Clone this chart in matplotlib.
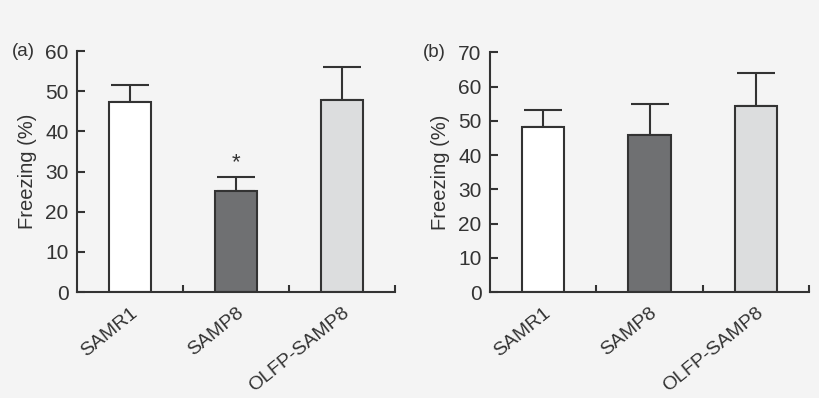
import numpy as np
import matplotlib.pyplot as plt

groups = ['SAMR1', 'SAMP8', 'OLFP-SAMP8']
freeze_a = [47.2, 25.1, 47.8]
err_a = [4.4, 3.5, 8.1]
freeze_b = [48.1, 45.9, 54.2]
err_b = [5.1, 8.9, 9.7]
colors = ['white', '#6f7072', '#dcddde']
ink = '#333333'
bg = '#f4f4f4'

plt.rcParams['font.family'] = ['Liberation Sans', 'DejaVu Sans']

fig = plt.figure(figsize=(8.2, 3.98), dpi=100, facecolor=bg)
ax_a = fig.add_axes([0.0939, 0.2663, 0.388, 0.6055])
ax_b = fig.add_axes([0.5976, 0.2663, 0.389, 0.6022])


def panel(ax, vals, errs, ymax, tag, tagx):
    ind = np.arange(len(groups))
    ax.set_facecolor(bg)
    ax.bar(ind, vals, 0.4, color=colors, edgecolor=ink, linewidth=1.5, zorder=2)
    ax.errorbar(ind, vals, yerr=[np.zeros(len(vals)), errs], fmt='none',
                ecolor=ink, elinewidth=1.5, capsize=13.5, capthick=1.5, zorder=1)
    ax.set_xlim(-0.5, 2.5)
    ax.set_ylim(0, ymax)
    ax.set_yticks(np.arange(0, ymax + 1, 10))
    ax.set_xticks(ind)
    ax.set_xticklabels(groups, rotation=39, ha='right', rotation_mode='anchor')
    ax.set_xticks([0.5, 1.5, 2.5], minor=True)
    ax.tick_params(axis='x', which='major', length=0, pad=9, labelsize=14, labelcolor=ink)
    ax.tick_params(axis='x', which='minor', direction='in', length=5, width=1.5, color=ink)
    ax.tick_params(axis='y', direction='in', length=6, width=1.5, color=ink,
                   labelsize=15, labelcolor=ink, pad=6)
    for s in ['top', 'right']:
        ax.spines[s].set_visible(False)
    for s in ['left', 'bottom']:
        ax.spines[s].set_color(ink)
        ax.spines[s].set_linewidth(1.5)
    ax.set_ylabel('Freezing (%)', fontsize=14.5, color=ink, labelpad=6)
    ax.text(tagx, 1.0, tag, transform=ax.transAxes, fontsize=13.5, color=ink,
            ha='left', va='center')


panel(ax_a, freeze_a, err_a, 60, '(a)', -0.204)
panel(ax_b, freeze_b, err_b, 70, '(b)', -0.21)
ax_a.text(1, freeze_a[1] + err_a[1] + 1.0, '*', ha='center', va='bottom',
          fontsize=16, color=ink)

fig.savefig('out.png', dpi=100, facecolor=bg)
